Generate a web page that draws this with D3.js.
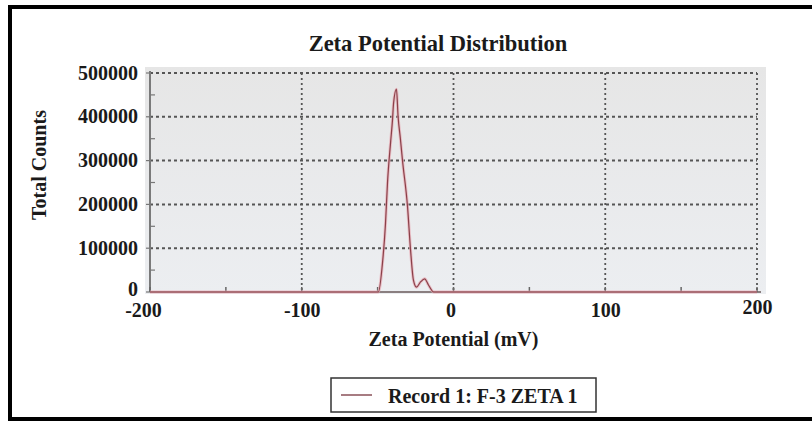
<!DOCTYPE html>
<html>
<head>
<meta charset="UTF-8">
<style>
  body { margin: 0; background: #fff; }
  svg { display: block; }
  text { font-family: 'Liberation Serif', 'Times New Roman', serif; font-weight: bold; fill: #1a1a1a; }
  .axis path, .axis line { display: none; }
</style>
</head>
<body>
<svg id="chart" width="812" height="421"></svg>
<script src="https://cdn.jsdelivr.net/npm/d3@7"></script>
<script>
// values
const zeta   = [-200, -60, -49.5, -46.8, -44.8, -43.5, -41.5, -40.2, -39.5, -37.6, -36.5, -35, -33.6, -30.3, -28.3, -26.4, -24.4, -21.7, -19, -16.5, -13, 0, 200];
const counts = [0, 0, 0, 66000, 157000, 249000, 340000, 393000, 431000, 463000, 400000, 350000, 300000, 195000, 96000, 27000, 11000, 23000, 30000, 16000, 0, 0, 0];
const xTicks = [-200, -100, 0, 100, 200];
const xMinor = [-150, -50, 50, 150];
const yTicks = [0, 100000, 200000, 300000, 400000, 500000];
const yMinor = [50000, 150000, 250000, 350000, 450000];
const title = "Zeta Potential Distribution";
const legendLabel = "Record 1: F-3 ZETA 1";

const svg = d3.select("#chart");

// outer frame (right side runs off the picture)
svg.append("rect")
  .attr("x", 10).attr("y", 7)
  .attr("width", 830).attr("height", 412)
  .attr("fill", "none")
  .attr("stroke", "#000")
  .attr("stroke-width", 4);

let x = d3.scaleLinear().domain([-200, 200]).range([150, 757]);
let y = d3.scaleLinear().domain([0, 500000]).range([292, 73]);

let defs = svg.append("defs");
let grad = defs.append("linearGradient").attr("id", "bg").attr("x1", 0).attr("y1", 0).attr("x2", 0).attr("y2", 1);
grad.append("stop").attr("offset", "0%").attr("stop-color", "#e6e6e6");
grad.append("stop").attr("offset", "100%").attr("stop-color", "#eceef1");

// plot background
svg.append("rect")
  .attr("x", x(-200) - 5).attr("y", y(500000) - 6)
  .attr("width", x(200) - x(-200) + 14)
  .attr("height", y(0) - y(500000) + 8)
  .attr("fill", "url(#bg)");

// grid
svg.append("g").selectAll("line")
  .data(yTicks.filter(d => d > 0))
  .join("line")
  .attr("x1", x(-200)).attr("x2", x(200))
  .attr("y1", d => y(d)).attr("y2", d => y(d))
  .attr("stroke", "#555")
  .attr("stroke-width", 2)
  .attr("stroke-dasharray", "3,3");

svg.append("g").selectAll("line")
  .data(xTicks.filter(d => d > -200))
  .join("line")
  .attr("x1", d => x(d)).attr("x2", d => x(d))
  .attr("y1", y(500000)).attr("y2", y(0))
  .attr("stroke", "#555")
  .attr("stroke-width", 1.8)
  .attr("stroke-dasharray", "2,3");

// axis lines
svg.append("line")
  .attr("x1", x(-200)).attr("x2", x(-200))
  .attr("y1", y(500000) - 2).attr("y2", y(0))
  .attr("stroke", "#7a7a7a").attr("stroke-width", 2);
svg.append("line")
  .attr("x1", x(-200)).attr("x2", x(200) + 4)
  .attr("y1", y(0)).attr("y2", y(0))
  .attr("stroke", "#8a7f80").attr("stroke-width", 2);

// small ticks
svg.append("g").selectAll("line")
  .data(yTicks)
  .join("line")
  .attr("x1", x(-200) - 4).attr("x2", x(-200))
  .attr("y1", d => y(d)).attr("y2", d => y(d))
  .attr("stroke", "#777").attr("stroke-width", 1.2);
svg.append("g").selectAll("line")
  .data(yMinor)
  .join("line")
  .attr("x1", x(-200)).attr("x2", x(-200) + 5)
  .attr("y1", d => y(d)).attr("y2", d => y(d))
  .attr("stroke", "#777").attr("stroke-width", 1.2);
svg.append("g").selectAll("line")
  .data(xMinor.concat(xTicks))
  .join("line")
  .attr("x1", d => x(d)).attr("x2", d => x(d))
  .attr("y1", y(0)).attr("y2", y(0) - 5)
  .attr("stroke", "#666").attr("stroke-width", 1.5);

// curve
let line = d3.line().curve(d3.curveMonotoneX).x((d, i) => x(zeta[i])).y(d => y(d));
svg.append("path")
  .datum(counts)
  .attr("d", line)
  .attr("fill", "none")
  .attr("stroke", "#e8a9b3")
  .attr("stroke-width", 3)
  .attr("stroke-opacity", 0.7);
svg.append("path")
  .datum(counts)
  .attr("d", line)
  .attr("fill", "none")
  .attr("stroke", "#8a4049")
  .attr("stroke-width", 1.2)
  .attr("stroke-linejoin", "round");

// axes labels
let yAxis = svg.append("g")
  .attr("class", "axis")
  .attr("transform", "translate(" + x(-200) + ",0)")
  .call(d3.axisLeft(y).tickValues(yTicks).tickSize(0).tickPadding(12).tickFormat(d => String(d)));
yAxis.selectAll("text")
  .style("font-size", "20px")
  .style("font-family", "'Liberation Serif', serif")
  .attr("dy", d => d === 0 ? "0.15em" : "0.3em");

let xAxis = svg.append("g")
  .attr("class", "axis")
  .attr("transform", "translate(0," + y(0) + ")")
  .call(d3.axisBottom(x).tickValues(xTicks).tickSize(0).tickPadding(11).tickFormat(d => String(d)));
xAxis.selectAll("text")
  .style("font-size", "20px")
  .style("font-family", "'Liberation Serif', serif")
  .attr("dx", d => d === -200 ? "-7" : (d === 0 ? "-3" : "0"))
  .attr("dy", d => d === 200 ? "0.55em" : "0.71em");

// titles
svg.append("text")
  .attr("x", 438).attr("y", 51)
  .attr("text-anchor", "middle")
  .style("font-size", "22.5px")
  .text(title);

svg.append("text")
  .attr("x", x(0)).attr("y", 346)
  .attr("text-anchor", "middle")
  .style("font-size", "20px")
  .text("Zeta Potential (mV)");

svg.append("text")
  .attr("transform", "translate(46,165) rotate(-90)")
  .attr("text-anchor", "middle")
  .style("font-size", "20px")
  .text("Total Counts");

// legend
let legend = svg.append("g");
legend.append("rect")
  .attr("x", 331).attr("y", 378)
  .attr("width", 265).attr("height", 34)
  .attr("fill", "#fff")
  .attr("stroke", "#333")
  .attr("stroke-width", 1.5);
legend.append("line")
  .attr("x1", 341).attr("x2", 372)
  .attr("y1", 395).attr("y2", 395)
  .attr("stroke", "#8a5058").attr("stroke-width", 1.5);
legend.append("text")
  .attr("x", 388).attr("y", 403)
  .style("font-size", "20px")
  .text(legendLabel);
</script>
</body>
</html>
